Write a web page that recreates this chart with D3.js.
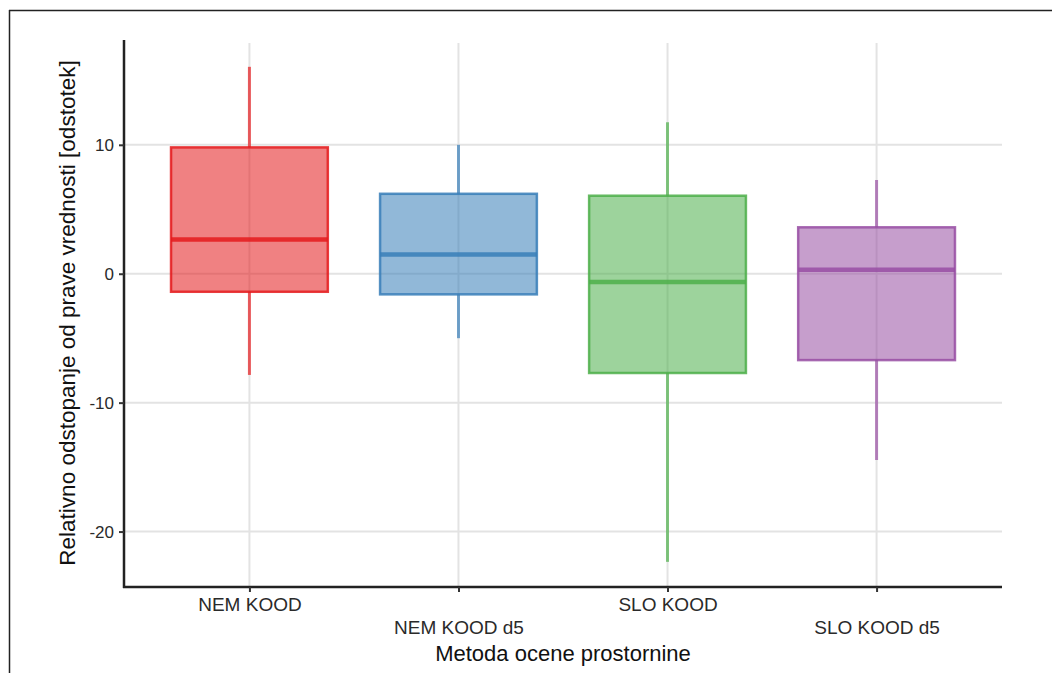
<!DOCTYPE html>
<html><head><meta charset="utf-8">
<script src="https://cdn.jsdelivr.net/npm/d3@7"></script>
<style>
html,body{margin:0;padding:0;background:#fff;}
svg{display:block;font-family:"Liberation Sans",Arial,Helvetica,sans-serif;}
</style></head>
<body><svg id="c" width="1052" height="673"></svg>
<script>
const categories = ["NEM KOOD", "NEM KOOD d5", "SLO KOOD", "SLO KOOD d5"];
const whiskerLow  = [-7.85, -5.0, -22.35, -14.45];
const q1          = [-1.4, -1.6, -7.7, -6.7];
const median      = [2.65, 1.5, -0.65, 0.3];
const q3          = [9.8, 6.2, 6.05, 3.6];
const whiskerHigh = [16.05, 10.0, 11.75, 7.27];
const colors      = ["#E41A1C", "#377EB8", "#4DAF4A", "#984EA3"];
const yTicks      = [-20, -10, 0, 10];
const xTitle = "Metoda ocene prostornine";
const yTitle = "Relativno odstopanje od prave vrednosti [odstotek]";

const svg = d3.select("#c");
const L = 124, R = 1002, T = 40, B = 587;

// outer frame (top and left edges)
svg.append("line").attr("x1", 9).attr("x2", 1052).attr("y1", 10.5).attr("y2", 10.5)
  .attr("stroke", "#222").attr("stroke-width", 1.5);
svg.append("line").attr("x1", 9.5).attr("x2", 9.5).attr("y1", 10).attr("y2", 673)
  .attr("stroke", "#222").attr("stroke-width", 1.5);

const y = d3.scaleLinear().domain([-24.3, 18.13]).range([B, T]);
const x = d3.scalePoint().domain(categories).range([L, R]).padding(0.6);

const step = x.step();
const boxW = step * 0.75;

// gridlines
const g = svg.append("g");
g.selectAll("line.h").data(yTicks).join("line")
  .attr("x1", L).attr("x2", R).attr("y1", d => y(d)).attr("y2", d => y(d))
  .attr("stroke", "#e3e3e3").attr("stroke-width", 2);
g.selectAll("line.v").data(categories).join("line")
  .attr("x1", d => x(d)).attr("x2", d => x(d)).attr("y1", T + 3).attr("y2", B)
  .attr("stroke", "#e3e3e3").attr("stroke-width", 2);

// boxes
const data = categories.map((c, i) => ({c, lo: whiskerLow[i], q1: q1[i], med: median[i], q3: q3[i], hi: whiskerHigh[i], col: colors[i]}));
const bg = svg.append("g");
data.forEach(d => {
  const cx = x(d.c);
  bg.append("line").attr("x1", cx).attr("x2", cx).attr("y1", y(d.hi)).attr("y2", y(d.q3))
    .attr("stroke", d.col).attr("stroke-opacity", 0.7).attr("stroke-width", 3);
  bg.append("line").attr("x1", cx).attr("x2", cx).attr("y1", y(d.q1)).attr("y2", y(d.lo))
    .attr("stroke", d.col).attr("stroke-opacity", 0.7).attr("stroke-width", 3);
  bg.append("rect").attr("x", cx - boxW / 2).attr("width", boxW)
    .attr("y", y(d.q3)).attr("height", y(d.q1) - y(d.q3))
    .attr("fill", d.col).attr("fill-opacity", 0.55)
    .attr("stroke", d.col).attr("stroke-opacity", 0.85).attr("stroke-width", 2.5);
  bg.append("line").attr("x1", cx - boxW / 2).attr("x2", cx + boxW / 2)
    .attr("y1", y(d.med)).attr("y2", y(d.med))
    .attr("stroke", d.col).attr("stroke-opacity", 0.85).attr("stroke-width", 4.5);
});

// axes
const ya = svg.append("g").attr("transform", `translate(${L},0)`)
  .call(d3.axisLeft(y).tickValues(yTicks).tickSize(5).tickPadding(5).tickFormat(d => String(d)));
ya.select(".domain").attr("d", `M0,${T}V${B + 1}`).attr("stroke", "#222").attr("stroke-width", 2.5);
ya.selectAll(".tick line").attr("stroke", "#333").attr("stroke-width", 2);
ya.selectAll(".tick text").attr("font-size", 17).attr("fill", "#2a2a2a")
  .attr("font-family", "'Liberation Sans',Arial,sans-serif");

const xa = svg.append("g").attr("transform", `translate(0,${B})`)
  .call(d3.axisBottom(x).tickSize(5).tickPadding(6));
xa.select(".domain").attr("d", `M${L - 1},0H${R}`).attr("stroke", "#222").attr("stroke-width", 2.5);
xa.selectAll(".tick line").attr("stroke", "#333").attr("stroke-width", 2);
xa.selectAll(".tick text").attr("font-size", 19).attr("fill", "#2a2a2a")
  .attr("font-family", "'Liberation Sans',Arial,sans-serif")
  .attr("dy", null)
  .attr("y", (d, i) => i % 2 === 0 ? 19 : 42)
  .attr("dominant-baseline", "middle");

// titles
svg.append("text").attr("x", 563).attr("y", 655).attr("text-anchor", "middle")
  .attr("dominant-baseline", "middle").attr("font-size", 22).attr("fill", "#111")
  .text(xTitle);
svg.append("text").attr("transform", `translate(69,${(58 + 568) / 2}) rotate(-90)`)
  .attr("text-anchor", "middle").attr("dominant-baseline", "middle")
  .attr("font-size", 22.5).attr("fill", "#111").text(yTitle);
</script></body></html>
